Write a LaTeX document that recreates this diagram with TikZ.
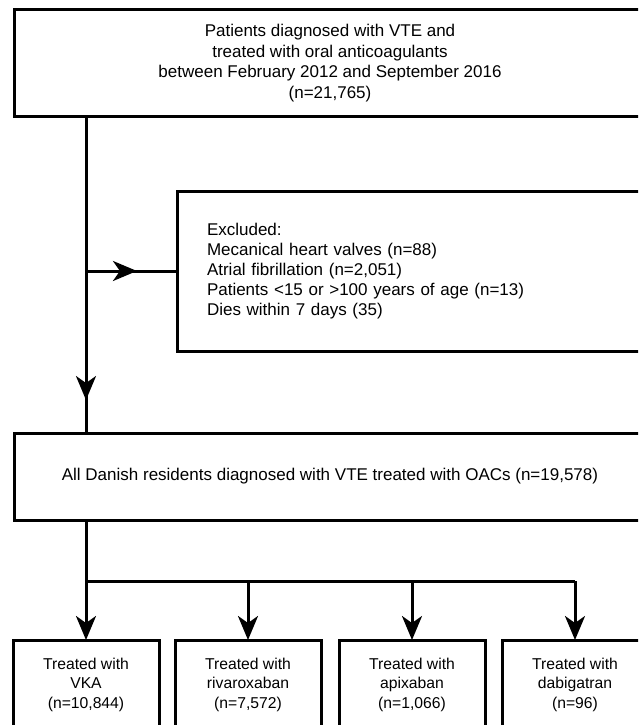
\documentclass[tikz,border=0pt]{standalone}
\usepackage{fontspec}
\setmainfont{Liberation Sans}
\usetikzlibrary{arrows.meta,decorations.markings,calc}
\begin{document}
\begin{tikzpicture}[x=1pt,y=-1pt,
  box/.style={draw,line width=3pt,rectangle,inner sep=0pt,outer sep=0pt},
  conn/.style={line width=3pt},
  arr/.style={conn,-{Stealth[length=24pt,width=20pt,inset=7pt]}},
  midarrow/.style={conn,postaction={decorate},decoration={markings,
     mark=at position #1 with {\arrow{Stealth[length=24pt,width=20pt,inset=7pt]}}}},
  bigtext/.style={font=\fontsize{17pt}{20.7pt}\selectfont},
  smalltext/.style={font=\fontsize{15.7pt}{19.5pt}\selectfont},
  trt/.style={box,anchor=north,minimum width=146pt,inner ysep=18pt,align=center,smalltext}
]
\useasboundingbox (0,0) rectangle (638,725);
\clip (0,0) rectangle (638,725);
\fill[white] (0,0) rectangle (638,725);

\node[box,anchor=north west,minimum width=632pt,minimum height=106pt,align=center,bigtext] (top) at (14,10)
  {Patients diagnosed with VTE and\\treated with oral anticoagulants\\between February 2012 and September 2016\\(n=21,765)};

\node[box,anchor=north west,minimum width=470pt,minimum height=160pt,inner xsep=30pt,text width=410pt,align=left,font=\fontsize{17pt}{20pt}\selectfont] (excl) at (177,191)
  {Excluded:\\Mecanical heart valves (n=88)\\Atrial fibrillation (n=2,051)\\Patients <15 or >100 years of age (n=13)\\Dies within 7 days (35)};

\node[box,anchor=north west,minimum width=632pt,minimum height=87pt,align=center,bigtext] (all) at (14,433)
  {All Danish residents diagnosed with VTE treated with OACs (n=19,578)};

\node[trt] (vka) at (86,640) {Treated with\\VKA\\(n=10,844)};
\node[trt] (riv) at (248,640) {Treated with\\rivaroxaban\\(n=7,572)};
\node[trt] (api) at (412,640) {Treated with\\apixaban\\(n=1,066)};
\node[trt] (dab) at (575,640) {Treated with\\dabigatran\\(n=96)};

\coordinate (bus) at (0,581);

\draw[midarrow=0.896] (top.south -| vka.north) -- (all.north -| vka.north);
\draw[midarrow=0.56] (excl.west -| vka.north) -- (excl.west);

\draw[arr] (all.south -| vka.north) -- (vka.north);
\draw[conn] (vka.north |- bus) -- (dab.north |- bus);
\foreach \n in {riv,api,dab} \draw[arr] (\n.north |- bus) -- (\n.north);
\end{tikzpicture}
\end{document}
